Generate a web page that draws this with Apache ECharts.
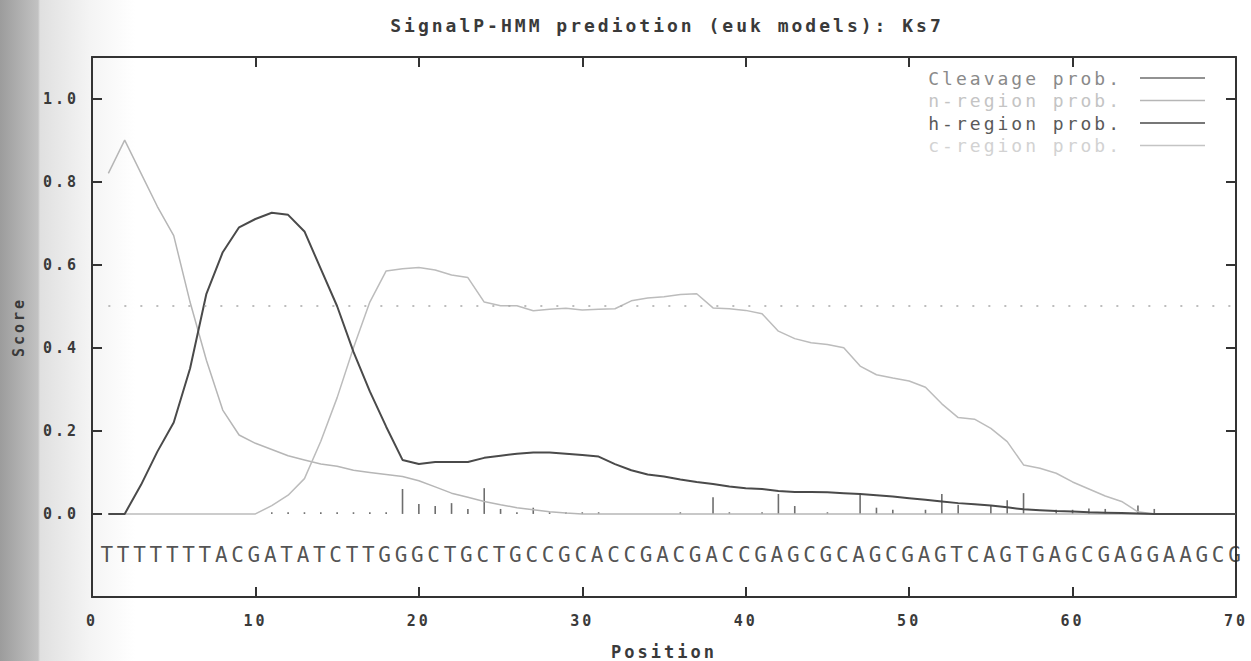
<!DOCTYPE html>
<html>
<head>
<meta charset="utf-8">
<title>SignalP-HMM prediotion</title>
<script src="https://cdn.jsdelivr.net/npm/echarts/dist/echarts.min.js"></script>
<style>
    html, body { margin: 0; padding: 0; }
    body {
        background: linear-gradient(to right, #9c9c9c 0px, #c2c2c2 38px, #e0e0e0 40px, #f4f4f4 90px, #ffffff 135px);
    }
    #main { width: 1251px; height: 661px; }
    #main text { letter-spacing: 3px; }
</style>
</head>
<body>
<div id="main"></div>
<script type="text/javascript">
// sequence letter for positions 1..70
var sequence = 'TTTTTTTACGATATCTTGGGCTGCTGCCGCACCGACGACCGAGCGCAGCGAGTCAGTGAGCGAGGAAGCG'.split('');

// scores per position 1..70
var cleavage = [
    0, 0, 0, 0, 0, 0, 0, 0, 0, 0,
    0.004, 0.004, 0.004, 0.004, 0.004, 0.004, 0.004, 0.004, 0.06, 0.024,
    0.019, 0.026, 0.012, 0.062, 0.012, 0.004, 0.015, 0.004, 0.004, 0.004,
    0.004, 0, 0, 0, 0, 0.004, 0, 0.04, 0.004, 0,
    0.004, 0.048, 0.019, 0, 0.004, 0, 0.05, 0.015, 0.01, 0,
    0.01, 0.048, 0.022, 0, 0.021, 0.033, 0.05, 0, 0.01, 0.01,
    0.013, 0.012, 0, 0.02, 0.012, 0, 0, 0, 0, 0
];
var nRegion = [
    0.82, 0.90, 0.82, 0.74, 0.67, 0.51, 0.37, 0.25, 0.19, 0.17,
    0.155, 0.14, 0.13, 0.12, 0.115, 0.105, 0.10, 0.095, 0.09, 0.08,
    0.065, 0.05, 0.04, 0.03, 0.022, 0.015, 0.01, 0.005, 0.002, 0,
    0, 0, 0, 0, 0, 0, 0, 0, 0, 0,
    0, 0, 0, 0, 0, 0, 0, 0, 0, 0,
    0, 0, 0, 0, 0, 0, 0, 0, 0, 0,
    0, 0, 0, 0, 0, 0, 0, 0, 0, 0
];
var hRegion = [
    0, 0, 0.07, 0.15, 0.22, 0.35, 0.53, 0.63, 0.69, 0.71,
    0.725, 0.72, 0.68, 0.59, 0.50, 0.39, 0.295, 0.21, 0.13, 0.12,
    0.125, 0.125, 0.125, 0.135, 0.14, 0.145, 0.148, 0.148, 0.145, 0.142,
    0.138, 0.12, 0.105, 0.095, 0.09, 0.083, 0.077, 0.072, 0.066, 0.062,
    0.06, 0.055, 0.053, 0.053, 0.052, 0.05, 0.048, 0.045, 0.042, 0.038,
    0.034, 0.03, 0.026, 0.023, 0.02, 0.016, 0.011, 0.009, 0.007, 0.006,
    0.004, 0.003, 0.002, 0.001, 0, 0, 0, 0, 0, 0
];
var cRegion = [
    0, 0, 0, 0, 0, 0, 0, 0, 0, 0,
    0.02, 0.045, 0.085, 0.175, 0.28, 0.40, 0.51, 0.585, 0.59, 0.593,
    0.587, 0.575, 0.569, 0.51, 0.501, 0.501, 0.489, 0.493, 0.495, 0.491,
    0.493, 0.494, 0.513, 0.52, 0.523, 0.528, 0.53, 0.496, 0.494, 0.49,
    0.482, 0.44, 0.422, 0.412, 0.408, 0.40, 0.356, 0.335, 0.327, 0.32,
    0.305, 0.265, 0.232, 0.228, 0.206, 0.174, 0.118, 0.11, 0.098, 0.077,
    0.06, 0.043, 0.03, 0.005, 0, 0, 0, 0, 0, 0
];
var threshold = 0.5;
var seqRow = -0.1;
var legendNames = ['Cleavage prob.', 'n-region prob.', 'h-region prob.', 'c-region prob.'];

var FONT = 'DejaVu Sans Mono';

function pairs(vals) {
    return vals.map(function (v, i) { return [i + 1, v]; });
}

function tick() {
    return { show: true, inside: true, length: 10, lineStyle: { color: '#333', width: 2 } };
}
function line() {
    return { show: true, onZero: false, lineStyle: { color: '#333', width: 2 } };
}

var myChart = echarts.init(document.getElementById('main'), null, { renderer: 'svg' });

var option = {
    backgroundColor: 'transparent',
    animation: false,
    title: {
        text: 'SignalP-HMM prediotion (euk models): Ks7',
        left: 662,
        top: 11,
        textAlign: 'center',
        textStyle: { fontFamily: FONT, fontSize: 18, fontWeight: 'bold', color: '#3a3a3a' }
    },
    legend: {
        orient: 'vertical',
        right: 41,
        top: 64,
        align: 'right',
        icon: 'rect',
        itemWidth: 65,
        itemHeight: 1.5,
        itemGap: 4.5,
        selectedMode: false,
        textStyle: { fontFamily: FONT, fontSize: 18, padding: [0, 13, 0, 0] },
        data: [
            { name: legendNames[0], textStyle: { color: '#8a8a8a' } },
            { name: legendNames[1], textStyle: { color: '#c4c4c4' } },
            { name: legendNames[2], textStyle: { color: '#5a5a5a' } },
            { name: legendNames[3], textStyle: { color: '#d2d2d2' } }
        ]
    },
    grid: { left: 92, right: 15, top: 57, bottom: 64, outerBoundsMode: 'none', containLabel: false },
    xAxis: [{
        type: 'value',
        position: 'bottom',
        min: 0,
        max: 70,
        interval: 10,
        name: 'Position',
        nameLocation: 'middle',
        nameGap: 46,
        nameTextStyle: { fontFamily: FONT, fontSize: 17, fontWeight: 'bold', color: '#3a3a3a' },
        axisLine: line(),
        axisTick: tick(),
        axisLabel: { margin: 16, fontFamily: FONT, fontSize: 15, fontWeight: 'bold', color: '#3a3a3a' },
        splitLine: { show: false }
    }, {
        type: 'value',
        position: 'top',
        min: 0,
        max: 70,
        interval: 10,
        axisLine: line(),
        axisTick: tick(),
        axisLabel: { show: false },
        splitLine: { show: false }
    }],
    yAxis: [{
        type: 'value',
        position: 'left',
        min: -0.2,
        max: 1.1,
        interval: 0.2,
        name: 'Score',
        nameLocation: 'middle',
        nameGap: 66,
        nameTextStyle: { fontFamily: FONT, fontSize: 15, fontWeight: 'bold', color: '#3a3a3a' },
        axisLine: line(),
        axisTick: tick(),
        axisLabel: {
            margin: 13,
            fontFamily: FONT, fontSize: 15, fontWeight: 'bold', color: '#3a3a3a',
            formatter: function (v) {
                if (v < -0.01 || v > 1.01) return '';
                return v.toFixed(1);
            }
        },
        splitLine: { show: false }
    }, {
        type: 'value',
        position: 'right',
        min: -0.2,
        max: 1.1,
        interval: 0.2,
        axisLine: line(),
        axisTick: tick(),
        axisLabel: { show: false },
        splitLine: { show: false }
    }],
    series: [{
        name: legendNames[0],
        type: 'bar',
        barWidth: 1.6,
        itemStyle: { color: '#6e6e6e' },
        data: pairs(cleavage)
    }, {
        name: legendNames[1],
        type: 'line',
        symbol: 'none',
        itemStyle: { color: '#b6b6b6' },
        lineStyle: { color: '#b6b6b6', width: 1.5 },
        data: pairs(nRegion)
    }, {
        name: legendNames[3],
        type: 'line',
        symbol: 'none',
        itemStyle: { color: '#c4c4c4' },
        lineStyle: { color: '#bcbcbc', width: 1.5 },
        data: pairs(cRegion),
        markLine: {
            silent: true,
            symbol: 'none',
            label: { show: false },
            lineStyle: { type: [2, 14], color: '#a8a8a8', width: 1.5 },
            data: [[{ coord: [1, threshold] }, { coord: [70, threshold] }]]
        }
    }, {
        name: legendNames[2],
        type: 'line',
        symbol: 'none',
        itemStyle: { color: '#4a4a4a' },
        lineStyle: { color: '#4a4a4a', width: 2 },
        data: pairs(hRegion)
    }, {
        name: 'sequence',
        type: 'scatter',
        symbolSize: 1,
        itemStyle: { color: 'rgba(0,0,0,0)' },
        label: {
            show: true,
            position: 'inside',
            fontFamily: FONT,
            fontSize: 21,
            color: '#262626',
            formatter: function (p) { return sequence[p.dataIndex]; }
        },
        data: sequence.map(function (c, i) { return [i + 1, seqRow]; })
    }]
};

myChart.setOption(option);
</script>
</body>
</html>
